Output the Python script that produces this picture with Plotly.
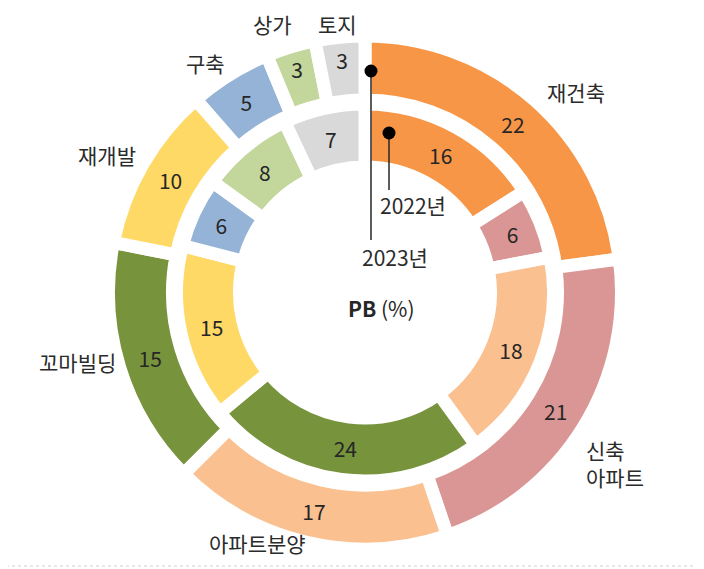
import plotly.graph_objects as go

# 카테고리 (시계방향, 12시 기준)
categories = ['재건축', '신축 아파트', '아파트분양', '꼬마빌딩', '재개발', '구축', '상가', '토지']
pb_2023 = [22, 21, 17, 15, 10, 5, 3, 3]
pb_2022 = [16, 6, 18, 24, 15, 6, 8, 7]
colors = ['#F79646', '#D99694', '#FAC090', '#77933C', '#FFD966', '#95B3D7', '#C3D69B', '#D9D9D9']

W, H = 704, 569
OFF = 8          # 브라우저 body 여백만큼 보정
FONT = 'Noto Sans CJK KR'
FS = 21
GAP = 13
cx, cy = 365, 292.5   # 화면 기준 중심


def domain(r):
    # 화면 픽셀 중심/반지름 -> paper 도메인
    x = cx - OFF
    yb = H - (cy - OFF)
    return dict(x=[(x - r) / W, (x + r) / W], y=[(yb - r) / H, (yb + r) / H])


def ring(values, r_in, r_out, name):
    R = r_out + GAP / 2
    h = (r_in - GAP / 2) / R
    return go.Pie(
        values=values, labels=categories, name=name,
        text=[str(v) for v in values], textinfo='text',
        textposition='inside', insidetextorientation='horizontal',
        textfont=dict(family=FONT, size=FS, color='#262626'),
        marker=dict(colors=colors, line=dict(color='white', width=GAP)),
        sort=False, direction='clockwise', rotation=0,
        hole=h, domain=domain(R), showlegend=False, hoverinfo='label+value',
    )


fig = go.Figure()
fig.add_trace(ring(pb_2023, 199, 250, '2023년'))
fig.add_trace(ring(pb_2022, 132, 182, '2022년'))

# 범주 라벨 (화면 픽셀 좌표)
labels = [
    ('재건축', 576, 92, 'center'),
    ('신축<br>아파트', 585, 463, 'left'),
    ('아파트분양', 257, 543, 'center'),
    ('꼬마빌딩', 77, 362, 'center'),
    ('재개발', 107, 155, 'center'),
    ('구축', 205, 63, 'center'),
    ('상가', 272, 24, 'center'),
    ('토지', 337, 24, 'center'),
]
for txt, x, y, al in labels:
    fig.add_annotation(
        x=x, y=y, xref='x', yref='y', text=txt, showarrow=False,
        xanchor=al, yanchor='middle', align='left', borderpad=0,
        font=dict(family=FONT, size=FS, color='#2b2b2b'),
    )

# 연도 표시
fig.add_shape(type='line', x0=371, x1=371, y0=71, y1=240, xref='x', yref='y',
              line=dict(color='#262626', width=1.5))
fig.add_shape(type='line', x0=389, x1=389, y0=133, y1=190, xref='x', yref='y',
              line=dict(color='#262626', width=1.5))
for x, y in [(371, 71), (389, 133)]:
    fig.add_shape(type='circle', x0=x - 6.5, x1=x + 6.5, y0=y - 6.5, y1=y + 6.5,
                  xref='x', yref='y', fillcolor='black', line=dict(color='black', width=0))
fig.add_annotation(x=395, y=257, xref='x', yref='y', text='2023년', showarrow=False,
                   font=dict(family=FONT, size=FS, color='#2b2b2b'))
fig.add_annotation(x=413, y=205, xref='x', yref='y', text='2022년', showarrow=False,
                   font=dict(family=FONT, size=FS, color='#2b2b2b'))

# 가운데 제목
fig.add_annotation(x=381, y=308, xref='x', yref='y', text='<b>PB</b> (%)', showarrow=False,
                   font=dict(family=FONT, size=FS, color='#262626'))

# 아래 점선
fig.add_shape(type='line', x0=0, x1=W, y0=566, y1=566, xref='x', yref='y',
              line=dict(color='#D0D0D0', width=1, dash='dot'))

fig.update_layout(
    width=W, height=H,
    margin=dict(l=0, r=0, t=0, b=0),
    paper_bgcolor='white', plot_bgcolor='white',
    # 축 범위를 화면 픽셀과 일치시킴
    xaxis=dict(visible=False, range=[OFF, W + OFF], domain=[0, 1], fixedrange=True),
    yaxis=dict(visible=False, range=[H + OFF, OFF], domain=[0, 1], fixedrange=True),
)

fig.write_html("out.html")
